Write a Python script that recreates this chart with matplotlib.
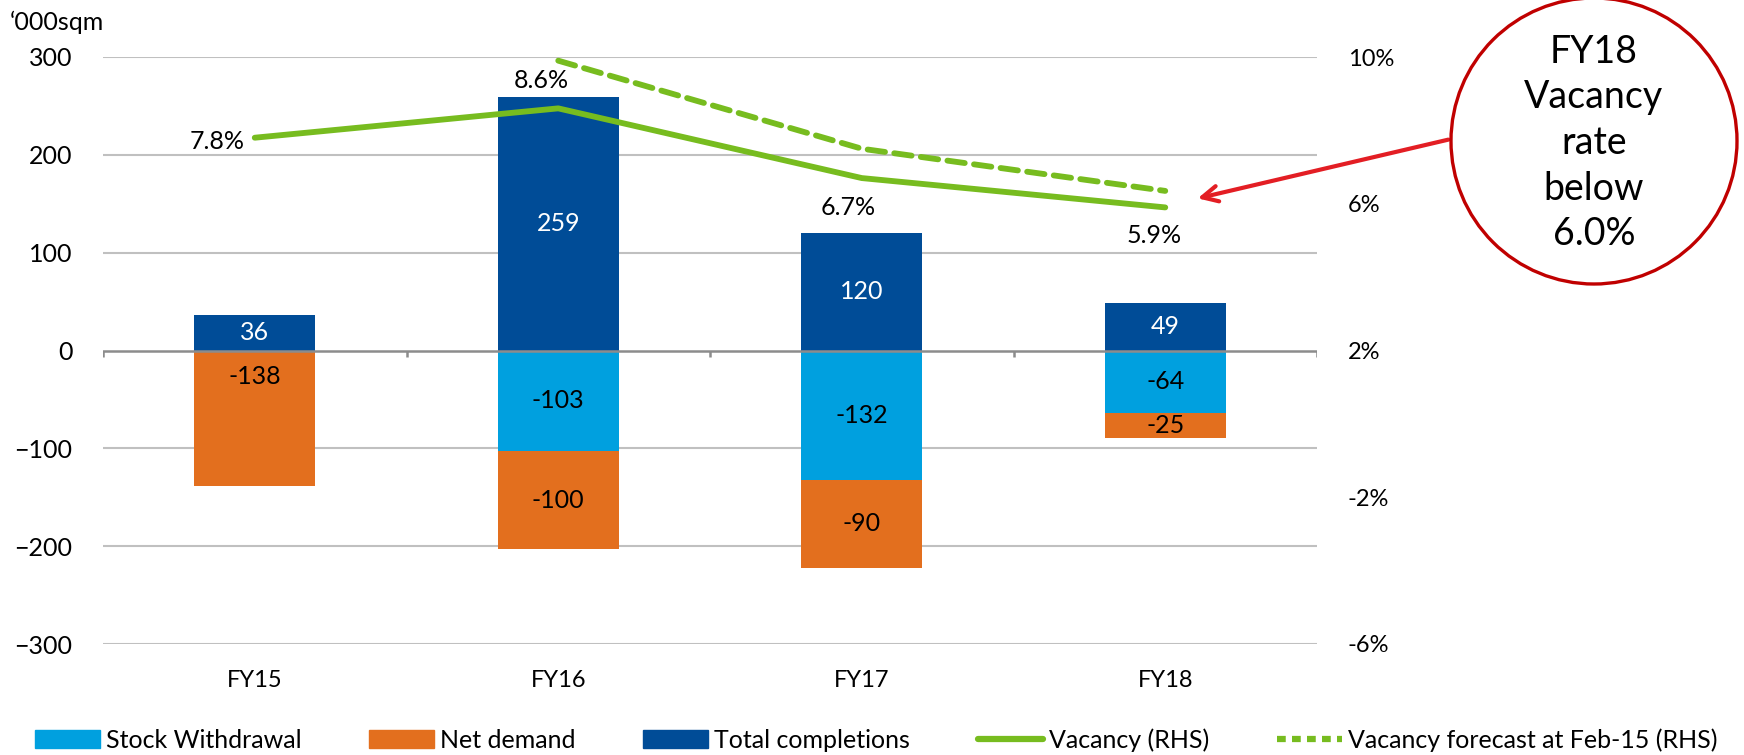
import numpy as np
import matplotlib
matplotlib.use("Agg")
import matplotlib.pyplot as plt
from matplotlib.patches import Circle
from matplotlib.lines import Line2D
from matplotlib.patches import Patch

# ─── Data ─────────────────────────────────────────────
years = ["FY15", "FY16", "FY17", "FY18"]
completions = [36, 259, 120, 49]
withdrawal = [0, -103, -132, -64]
net_demand = [-138, -100, -90, -25]
vacancy = [7.8, 8.6, 6.7, 5.9]
forecast_years = ["FY16", "FY17", "FY18"]
forecast = [9.9, 7.5, 6.35]

C_DARK = "#004C97"
C_LIGHT = "#00A0DF"
C_ORANGE = "#E36F1E"
C_GREEN = "#77BC1F"
C_GRID = "#C0C0C0"

plt.rcParams["font.family"] = ["Lato", "DejaVu Sans"]
FS = 18

fig = plt.figure(figsize=(17.44, 7.55), dpi=100)
ax = fig.add_axes([103 / 1744, 1 - 644 / 755, (1317 - 103) / 1744, (644 - 57) / 755])
ax2 = ax.twinx()

x = np.arange(len(years))
w = 0.4

ax.bar(x, completions, w, color=C_DARK, zorder=3)
ax.bar(x, withdrawal, w, color=C_LIGHT, zorder=3)
ax.bar(x, net_demand, w, bottom=withdrawal, color=C_ORANGE, zorder=3)

# bar labels
for i in range(len(years)):
    ax.text(x[i], completions[i] / 2, f"{completions[i]}", color="white",
            ha="center", va="center", fontsize=FS, zorder=5)
    if withdrawal[i] != 0:
        ax.text(x[i], withdrawal[i] / 2, f"{withdrawal[i]}", color="black",
                ha="center", va="center", fontsize=FS, zorder=5)
        ax.text(x[i], withdrawal[i] + net_demand[i] / 2, f"{net_demand[i]}",
                color="black", ha="center", va="center", fontsize=FS, zorder=5)
    else:
        # label sits near the top of the bar
        ax.text(x[i], net_demand[i] * 0.19, f"{net_demand[i]}", color="black",
                ha="center", va="center", fontsize=FS, zorder=5)

ax.set_ylim(-300, 300)
ax.set_xlim(-0.5, len(years) - 0.5)
ax.set_yticks(np.arange(-300, 301, 100))
for v in np.arange(-300, 301, 100):
    if v != 0:
        ax.axhline(v, color=C_GRID, lw=1.5, zorder=1)
ax.axhline(0, color="#8C8C8C", lw=1.8, zorder=4)
ax.vlines(np.arange(-0.5, len(years)), -7, 0, color="#8C8C8C", lw=1.8, zorder=4)

for s in ax.spines.values():
    s.set_visible(False)
for s in ax2.spines.values():
    s.set_visible(False)

ax.set_xticks(x)
ax.set_xticklabels(years, fontsize=17)
ax.tick_params(axis="x", length=0, pad=19)
ax.tick_params(axis="y", length=0, labelsize=FS, pad=22)

fig.text(10 / 1744, 1 - 22 / 755, "\u2018000sqm", fontsize=FS, ha="left", va="center")

# vacancy lines on RHS
ax2.set_ylim(-6, 10)
ax2.set_yticks([-6, -2, 2, 6, 10])
ax2.set_yticklabels([f"{t}%" for t in [-6, -2, 2, 6, 10]])
ax2.tick_params(axis="y", length=0, labelsize=17, pad=22)

fx = [years.index(y) for y in forecast_years]
ax2.plot(fx, forecast, color=C_GREEN, lw=4.2, ls=(0, (3, 1.6)), zorder=6,
         solid_capstyle="round", dash_capstyle="round")
ax2.plot(x, vacancy, color=C_GREEN, lw=4.2, zorder=6, solid_capstyle="round")

offsets = [(-7, -3, "right"), (-12, 20, "center"), (-10, -21, "center"), (-8, -20, "center")]
for i, (dx, dy, ha) in enumerate(offsets):
    ax2.annotate(f"{vacancy[i]:.1f}%", (x[i], vacancy[i]), xytext=(dx, dy),
                 textcoords="offset points", ha=ha, va="center", fontsize=FS, zorder=7)

# callout circle
circ = Circle((15.94, 7.55 - 1.41), 1.43, transform=fig.dpi_scale_trans,
              facecolor="white", edgecolor="#C00000", lw=2.4)
fig.add_artist(circ)
fig.text(15.94, 7.55 - 1.43, "FY18\nVacancy\nrate\nbelow\n6.0%", transform=fig.dpi_scale_trans,
         ha="center", va="center", fontsize=27, linespacing=1.33)
ax.annotate("", xy=(1195, 755 - 199), xycoords="figure pixels",
            xytext=(1451, 755 - 139), textcoords="figure pixels",
            arrowprops=dict(arrowstyle="->", color="#E31E24", lw=3, mutation_scale=28))

# legend
handles = [
    Patch(color=C_LIGHT, label="Stock Withdrawal"),
    Patch(color=C_ORANGE, label="Net demand"),
    Patch(color=C_DARK, label="Total completions"),
    Line2D([], [], color=C_GREEN, lw=4.5, label="Vacancy (RHS)", solid_capstyle="round"),
    Line2D([], [], color=C_GREEN, lw=4.5, ls=(0, (1.4, 1)), label="Vacancy forecast at Feb-15 (RHS)"),
]
fig.legend(handles=handles, loc="center left", bbox_to_anchor=(12 / 1744, 1 - 740 / 755),
           ncol=5, frameon=False, prop={"size": 18},
           handlelength=2.6, handleheight=0.75, handletextpad=0.25, columnspacing=2.7)

fig.savefig("out.png", dpi=100)
